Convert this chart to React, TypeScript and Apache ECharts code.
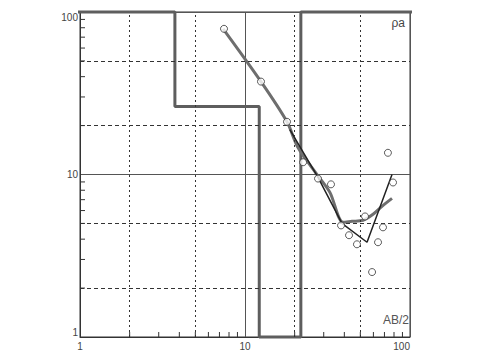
import React, { useEffect, useRef } from 'react';
import * as echarts from 'echarts';

// Tick labels
const xTickLabels = ['1', '10', '100'];
const yTickLabels = ['1', '10', '100'];
// Dashed grid values (both axes)
const gridDashValues = [2, 5, 20, 50];
// Minor tick values (both axes)
const minorTickValues = [2, 3, 4, 5, 6, 7, 8, 9, 20, 30, 40, 50, 60, 70, 80, 90];

// Field observations (open circles)
const obsAB2 = [7.46, 12.5, 17.97, 22.5, 27.7, 33.2, 38.2, 42.7, 47.7, 53.4, 58.9, 64.0, 68.6, 78.9, 73.5];
const obsRho = [78.8, 37.3, 21.1, 11.9, 9.44, 8.7, 4.86, 4.23, 3.72, 5.52, 2.51, 3.83, 4.73, 8.93, 13.6];

// Smooth thick gray curve
const curveAB2 = [7.37, 12.5, 17.97, 20.9, 27.3, 32.7, 39.3, 44.5, 51.9, 59.7, 67.6, 77.8];
const curveRho = [78.8, 37.3, 21.1, 14.7, 10, 7.76, 5.08, 5.15, 5.23, 5.69, 6.37, 7.13];

// Thin dark line
const lineAB2 = [18.7, 27.7, 38.7, 54.9, 77.8];
const lineRho = [18.9, 9.6, 5.0, 3.83, 10];

// Layer model (clamped to plot range)
const layerDepth = [3.76, 12.2, 21.8];
const layerRho = [100, 26.2, 1, 100];
const modelStart = 0.37;
const modelEnd = 270;

function buildModel(): number[][] {
  const pts: number[][] = [[modelStart, layerRho[0]]];
  layerDepth.forEach((d, i) => {
    pts.push([d, layerRho[i]]);
    pts.push([d, layerRho[i + 1]]);
  });
  pts.push([modelEnd, layerRho[layerRho.length - 1]]);
  return pts;
}

const zip = (a: number[], b: number[]) => a.map((v, i) => [v, b[i]]);

const FONT = 'Liberation Sans';
const DARK = '#333';
const AXIS_MIN = 1;
const GRID_W = 330;
const GRID_H = 325;
const DECADES = 2;
const MINOR_LEN = 5; // px
// multiplicative step equal to MINOR_LEN pixels along each log axis
const yStep = Math.pow(10, (MINOR_LEN * DECADES) / GRID_H);
const xStep = Math.pow(10, (MINOR_LEN * DECADES) / GRID_W);

function tickSegments(horizontalAxis: boolean): (number[] | null)[] {
  const out: (number[] | null)[] = [];
  minorTickValues.forEach((v) => {
    if (horizontalAxis) {
      out.push([v, AXIS_MIN], [v, AXIS_MIN * yStep]);
    } else {
      out.push([AXIS_MIN, v], [AXIS_MIN * xStep, v]);
    }
    out.push(null);
  });
  return out;
}

export default function App() {
  const ref = useRef<HTMLDivElement>(null);
  useEffect(() => {
    if (!ref.current) return;
    const chart = echarts.init(ref.current, undefined, { renderer: 'svg' });
    const axisCommon = {
      type: 'log',
      logBase: 10,
      min: AXIS_MIN,
      max: 100,
      axisLine: { show: true, lineStyle: { color: DARK, width: 1 } },
      axisTick: { show: false },
      splitLine: { show: true, lineStyle: { color: '#555', width: 1 } },
    };
    const tickSeries = (horizontalAxis: boolean) => ({
      type: 'line',
      silent: true,
      clip: false,
      connectNulls: false,
      showSymbol: false,
      symbol: 'none',
      data: tickSegments(horizontalAxis),
      lineStyle: { color: DARK, width: 1 },
      z: 6,
    });
    chart.setOption({
      animation: false,
      backgroundColor: '#fff',
      grid: {
        left: 80,
        top: 12,
        width: GRID_W,
        height: GRID_H,
        show: true,
        borderColor: DARK,
        borderWidth: 1,
        backgroundColor: 'transparent',
      },
      xAxis: {
        ...axisCommon,
        axisLabel: {
          fontSize: 10,
          fontFamily: FONT,
          color: '#444',
          margin: 4,
          alignMaxLabel: 'right',
          formatter: (v: number) => xTickLabels.find((t) => Number(t) === v) ?? '',
        },
      },
      yAxis: {
        ...axisCommon,
        axisLabel: {
          fontSize: 10,
          fontFamily: FONT,
          color: '#444',
          margin: 2,
          verticalAlignMaxLabel: 'top',
          verticalAlignMinLabel: 'bottom',
          formatter: (v: number) => yTickLabels.find((t) => Number(t) === v) ?? '',
        },
      },
      graphic: [
        {
          type: 'text',
          right: 72,
          top: 314,
          style: { text: 'AB/2', font: `12px "${FONT}"`, fill: '#555' },
        },
        {
          type: 'text',
          right: 76,
          top: 17,
          style: { text: 'ρa', font: `12px "${FONT}"`, fill: '#444' },
        },
      ],
      series: [
        {
          type: 'line',
          data: [],
          silent: true,
          markLine: {
            silent: true,
            symbol: ['none', 'none'],
            label: { show: false },
            lineStyle: { type: [3, 3], color: DARK, width: 1 },
            data: [
              ...gridDashValues.map((v) => ({ xAxis: v, lineStyle: { type: [2, 3] } })),
              ...gridDashValues.map((v) => ({ yAxis: v, lineStyle: { type: [4, 3] } })),
            ],
          },
          z: 1,
        },
        tickSeries(true),
        tickSeries(false),
        {
          type: 'line',
          data: buildModel(),
          clip: false,
          showSymbol: false,
          symbol: 'none',
          lineStyle: { color: '#5e5e5e', width: 3 },
          z: 2,
        },
        {
          type: 'line',
          data: zip(curveAB2, curveRho),
          smooth: 0.3,
          showSymbol: false,
          symbol: 'none',
          lineStyle: { color: '#6e6e6e', width: 3 },
          z: 3,
        },
        {
          type: 'line',
          data: zip(lineAB2, lineRho),
          showSymbol: false,
          symbol: 'none',
          lineStyle: { color: '#222', width: 1.5 },
          z: 4,
        },
        {
          type: 'scatter',
          data: zip(obsAB2, obsRho),
          symbol: 'circle',
          symbolSize: 7,
          itemStyle: { color: '#fff', borderColor: DARK, borderWidth: 1 },
          z: 5,
        },
      ],
    });
    return () => chart.dispose();
  }, []);
  return (
    <div
      ref={ref}
      style={{ position: 'fixed', left: 0, top: 0, width: 481, height: 354, background: '#fff' }}
    />
  );
}
